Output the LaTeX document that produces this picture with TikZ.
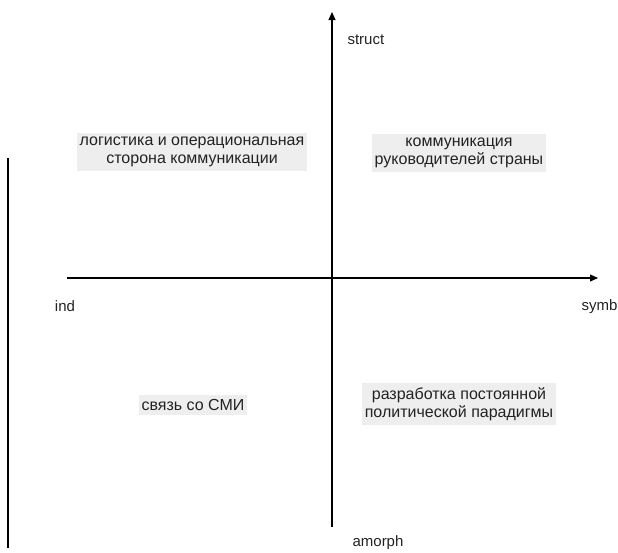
\documentclass[tikz,border=0pt]{standalone}
\usepackage{fontspec}
\setmainfont{Liberation Sans}
\usetikzlibrary{positioning,arrows.meta}
\definecolor{boxgray}{HTML}{EEEEEE}
\definecolor{textgray}{HTML}{222222}

\begin{document}
\begin{tikzpicture}[x=1pt,y=-1pt,
font=\fontsize{16}{18.5}\selectfont,
text=textgray,
quad/.style={fill=boxgray, align=center, inner xsep=3pt, inner ysep=4pt},
axislabel/.style={font=\fontsize{15}{18}\selectfont},
axis/.style={-{Triangle[length=8pt,width=7pt]}, line width=1.1pt}
]
\useasboundingbox (0,0) rectangle (618,552);
\coordinate (w) at (67,278);
\coordinate (e) at (598,278);
\coordinate (s) at (332,527);
\coordinate (n) at (332,12);
\draw[axis] (w)--(e);
\draw[axis] (s)--(n);
\node[axislabel, anchor=west] (struct) at (344,40) {struct};
\node[axislabel] (amorph) at (378,543) {amorph};
\node[axislabel] (ind) at (65,306) {ind};
\node[axislabel, anchor=east] (symb) at (621,307) {symb};
\node[quad] (logist) at (192,152) {логистика и операциональная\\сторона коммуникации};
\node[quad] (lead) at (459,153) {коммуникация\\руководителей страны};
\node[quad] (media) at (193,405) {связь со СМИ};
\node[quad] (parad) at (459,404) {разработка постоянной\\политической парадигмы};
% left edge line
\coordinate (l1) at (8,158);
\coordinate (l2) at (8,548);
\draw[line width=1.6pt] (l1)--(l2);
\end{tikzpicture}
\end{document}
